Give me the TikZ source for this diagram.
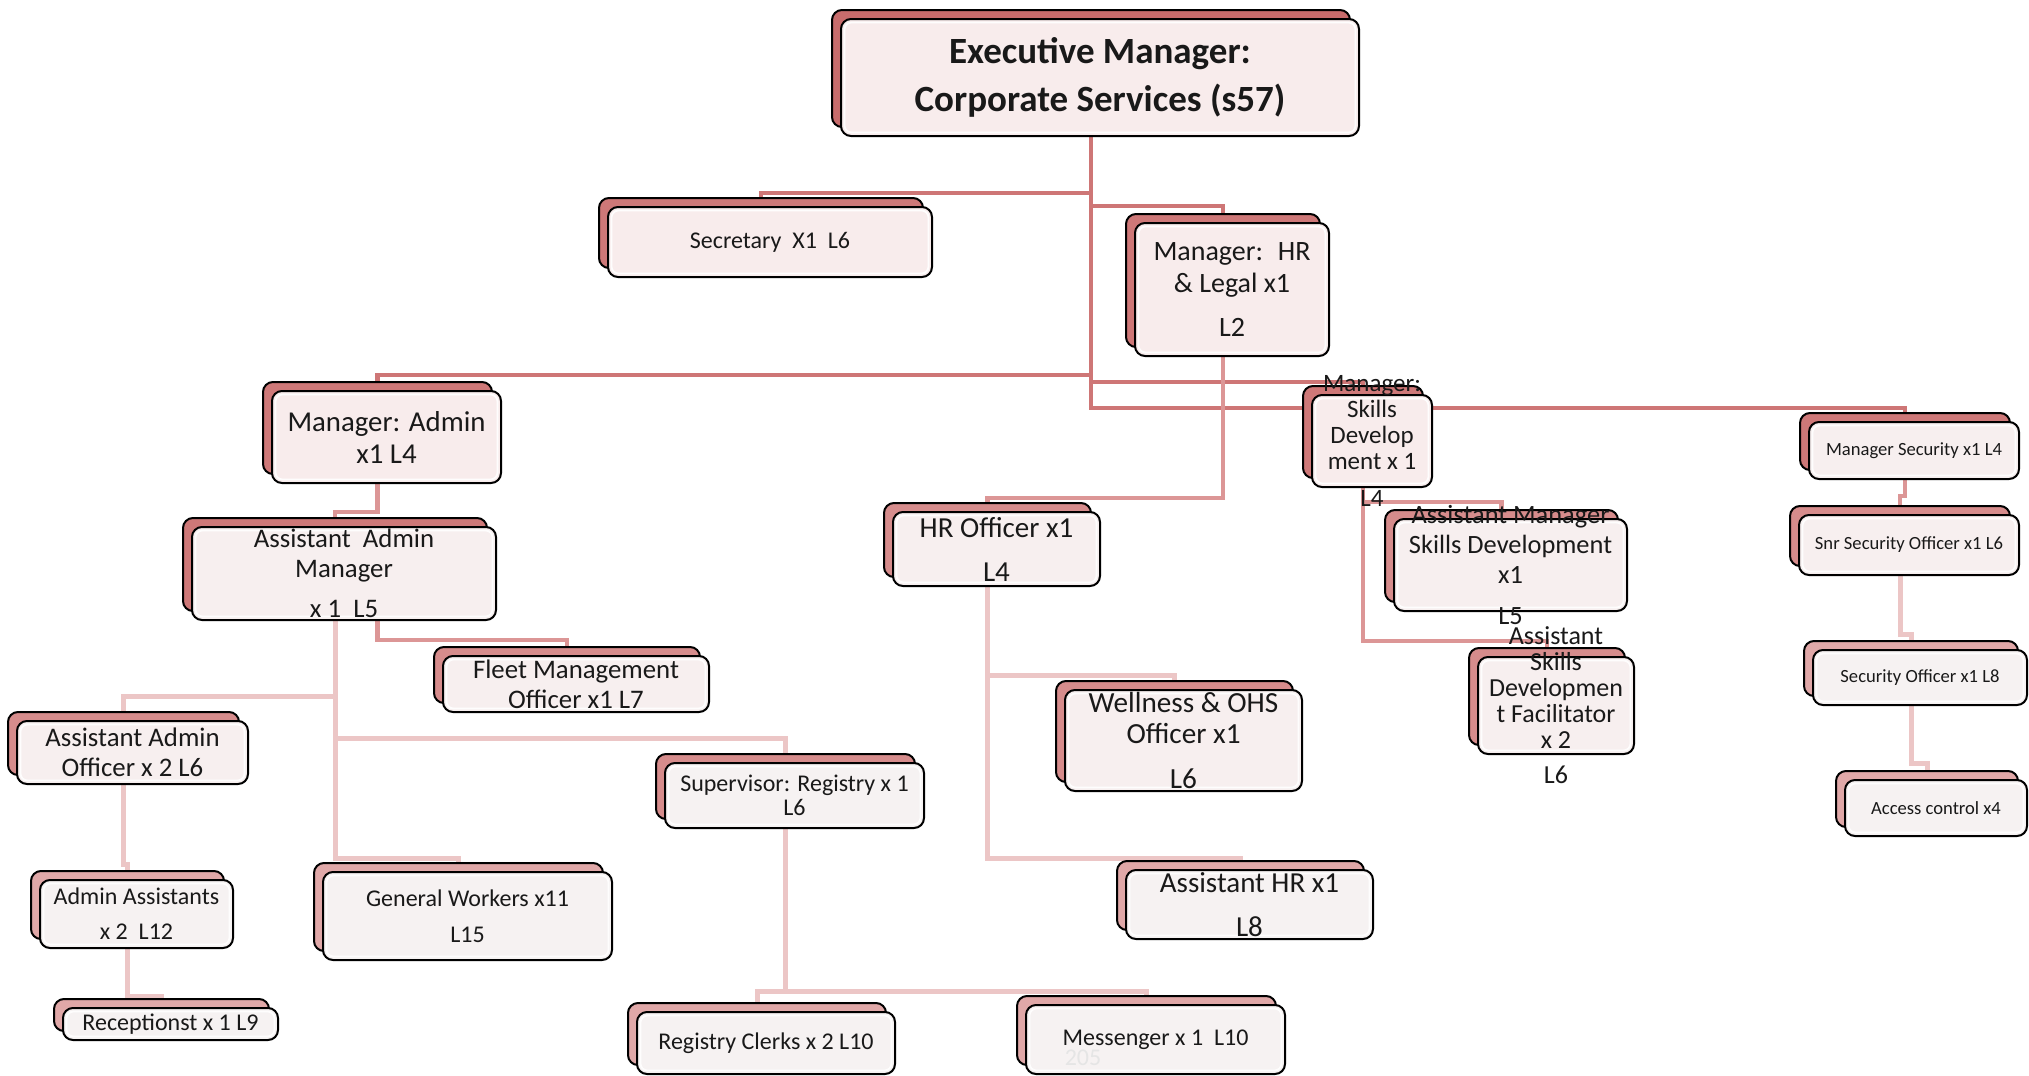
\documentclass[tikz,border=0pt]{standalone}
\usepackage{fontspec}
\setmainfont{Carlito}
\usetikzlibrary{calc}
\pgfdeclarelayer{bg}
\pgfdeclarelayer{background}
\pgfsetlayers{bg,background,main}
\definecolor{shA}{RGB}{200,108,108}
\definecolor{shB}{RGB}{206,120,120}
\definecolor{shC}{RGB}{214,140,140}
\definecolor{shD}{RGB}{224,168,168}
\definecolor{fA}{RGB}{248,236,236}
\definecolor{fB}{RGB}{247,239,239}
\definecolor{fC}{RGB}{246,242,242}
\definecolor{lnDark}{RGB}{206,118,118}
\definecolor{lnMed}{RGB}{220,150,150}
\definecolor{lnLight}{RGB}{236,198,198}
\definecolor{txtc}{RGB}{25,25,25}
\tikzset{
  bbox/.style={draw=black, line width=1pt, rounded corners=5pt, inner sep=0pt},
  fbox/.style={draw=black, line width=1pt, rounded corners=5pt, inner sep=0pt},
  hbox/.style={draw=white, line width=0.9pt, rounded corners=3.5pt, inner sep=0pt, opacity=0.9},
  txt/.style={align=center, inner sep=0pt, text=txtc},
  ldark/.style={draw=lnDark, line width=2.2pt},
  lmed/.style={draw=lnMed, line width=2.3pt},
  llight/.style={draw=lnLight, line width=2.5pt},
}
% name, cx, cy, w, h, shadow colour, fill colour, font, text
\newcommand\obox[9]{%
  \node[bbox, fill=#6, minimum width={#4*0.5pt}, minimum height={#5*0.5pt}] (#1-b) at ({#2-9},{#3-9}) {};
  \node[fbox, fill=#7, minimum width={#4*0.5pt}, minimum height={#5*0.5pt}] (#1) at (#2,#3) {};
  \node[hbox, minimum width={(#4-7)*0.5pt}, minimum height={(#5-7)*0.5pt}] (#1-h) at (#2,#3) {};
  \node[txt, font={#8}] (#1-t) at (#2,#3) {#9};
}
\newcommand\fs[2]{\fontsize{#1}{#2}\selectfont}
\begin{document}
\begin{tikzpicture}[x=0.5pt,y=-0.5pt]
\useasboundingbox (0,0) rectangle (2029,1076);
\begin{pgfonlayer}{bg}
  \fill[white] (0,0) rectangle (2029,1076);
\end{pgfonlayer}

\obox{exec}{1100}{77.5}{518}{117}{shA}{fA}{\fs{18.5}{24}\bfseries}{Executive Manager:\\Corporate Services (s57)}
\obox{sec}{770}{242}{324}{70}{shB}{fA}{\fs{12}{14}}{Secretary~ X1~ L6}
\obox{hrm}{1232}{289.5}{194}{133}{shB}{fA}{\fs{14}{16}}{Manager:~ HR\\\& Legal x1\\[6pt]L2}
\obox{adm}{386.5}{437}{229}{92}{shB}{fA}{\fs{14.4}{16}}{Manager: Admin\\x1 L4}
\obox{skm}{1372}{441}{120}{92}{shB}{fA}{\fs{12.5}{13}}{Manager:\\Skills\\Develop\\ment x 1\\[5.8pt]L4}
\obox{secm}{1914}{450.5}{210}{57}{shB}{fB}{\fs{9.3}{11}}{Manager Security x1 L4}
\obox{aam}{344}{573.5}{304}{93}{shB}{fB}{\fs{13.4}{15}}{Assistant~ Admin\\Manager\\[5pt]x 1~ L5}
\obox{hro}{996.5}{549}{207}{74}{shC}{fB}{\fs{14.5}{16}}{HR Officer x1\\[6pt]L4}
\obox{ams}{1510.5}{565}{233}{92}{shC}{fB}{\fs{13.2}{15}}{Assistant Manager\\Skills Development\\x1\\[5.7pt]L5}
\obox{snr}{1909}{545}{220}{60}{shC}{fB}{\fs{9.3}{11}}{Snr Security Officer x1 L6}
\obox{fleet}{576}{684}{266}{56}{shC}{fB}{\fs{13.4}{15}}{Fleet Management\\Officer x1 L7}
\obox{fac}{1556}{705.5}{156}{97}{shC}{fB}{\fs{13}{13}}{Assistant\\Skills\\Developmen\\t Facilitator\\x 2\\[4.5pt]L6}
\obox{seco}{1920}{677.5}{214}{55}{shD}{fC}{\fs{9.3}{11}}{Security Officer x1 L8}
\obox{acc}{1936}{808}{182}{56}{shD}{fC}{\fs{9.3}{11}}{Access control x4}
\obox{well}{1183.5}{740.5}{237}{101}{shC}{fB}{\fs{14.6}{15.5}}{Wellness \& OHS\\Officer x1\\[7pt]L6}
\obox{aao}{132.5}{752.5}{231}{63}{shC}{fB}{\fs{13.4}{15}}{Assistant Admin\\Officer x 2 L6}
\obox{sup}{794.5}{795.5}{259}{65}{shC}{fC}{\fs{12}{12.3}}{Supervisor: Registry x 1\\L6}
\obox{aas}{136.5}{914}{193}{68}{shD}{fC}{\fs{12}{17.5}}{Admin Assistants\\x 2~ L12}
\obox{gw}{467.5}{916}{289}{88}{shD}{fC}{\fs{12}{18}}{General Workers x11\\L15}
\obox{ahr}{1249.5}{904.5}{247}{69}{shD}{fC}{\fs{14.5}{16}}{Assistant HR x1\\[6pt]L8}
\obox{rec}{170.5}{1024}{215}{32}{shD}{fC}{\fs{12}{14}}{Receptionst x 1 L9}
\obox{rc}{766}{1043}{258}{62}{shD}{fC}{\fs{12}{14}}{Registry Clerks x 2 L10}
\obox{mes}{1155.5}{1039.5}{259}{69}{shD}{fC}{\fs{12}{14}}{Messenger x 1~ L10}
\node[text=black!10, font=\fs{12}{14}, inner sep=0pt] (pgno) at (1083,1058) {205};

% junction levels
\coordinate (jsec) at (0,193);
\coordinate (jhrm) at (0,206);
\coordinate (jadm) at (0,375);
\coordinate (jskm) at (0,382);
\coordinate (jsecm) at (0,408);
\coordinate (jhro) at (0,498);
\coordinate (jwell) at (0,675);
\coordinate (jahr) at (0,858);
\coordinate (jams) at (0,502);
\coordinate (jfac) at (0,641);
\coordinate (jaam) at (0,512);
\coordinate (jfleet) at (0,640);
\coordinate (jaao) at (0,696);
\coordinate (jsup) at (0,738);
\coordinate (jgw) at (0,858);
\coordinate (jaas) at (0,864);
\coordinate (jrec) at (0,996);
\coordinate (jrc) at (0,991);
\coordinate (jsnr) at (0,496);
\coordinate (jseco) at (0,634);
\coordinate (jacc) at (0,763);

\begin{pgfonlayer}{background}
  % executive trunk
  \draw[ldark] (exec-b.south) -- (exec-b.south |- jsecm) -| (secm-b);
  \draw[ldark] (exec-b.south |- jsec) -| (sec-b);
  \draw[ldark] (exec-b.south |- jhrm) -| (hrm-b);
  \draw[ldark] (exec-b.south |- jadm) -| (adm-b);
  \draw[ldark] (exec-b.south |- jskm) -| (skm-b);
  % HR
  \draw[lmed] (hrm-b.south) -- (hrm-b.south |- jhro) -| (hro-b);
  \draw[llight] (hro-b.south) -- (hro-b.south |- jahr) -| (ahr-b);
  \draw[llight] (hro-b.south |- jwell) -| (well-b);
  % skills
  \draw[lmed] (skm-b.south) -- (skm-b.south |- jfac) -| (fac-b);
  \draw[lmed] (skm-b.south |- jams) -| (ams-b);
  % admin
  \draw[lmed] (adm-b.south) -- (adm-b.south |- jaam) -| (aam-b);
  \draw[lmed] (aam.south -| adm-b.south) -- (adm-b.south |- jfleet) -| (fleet-b);
  \draw[llight] (aam-b.south) -- (aam-b.south |- jgw) -| (gw-b);
  \draw[llight] (aam-b.south |- jaao) -| (aao-b);
  \draw[llight] (aam-b.south |- jsup) -| (sup-b);
  \draw[llight] (aao-b.south) -- (aao-b.south |- jaas) -| (aas-b);
  \draw[llight] (aas-b.south) -- (aas-b.south |- jrec) -| (rec-b);
  \draw[llight] (sup-b.south) -- (sup-b.south |- jrc) -| (rc-b);
  \draw[llight] (sup-b.south |- jrc) -| (mes-b);
  % security
  \draw[lmed] (secm-b.south) -- (secm-b.south |- jsnr) -| (snr-b);
  \draw[llight] (snr-b.south) -- (snr-b.south |- jseco) -| (seco-b);
  \draw[llight] (seco-b.south) -- (seco-b.south |- jacc) -| (acc-b);
\end{pgfonlayer}
\end{tikzpicture}
\end{document}
